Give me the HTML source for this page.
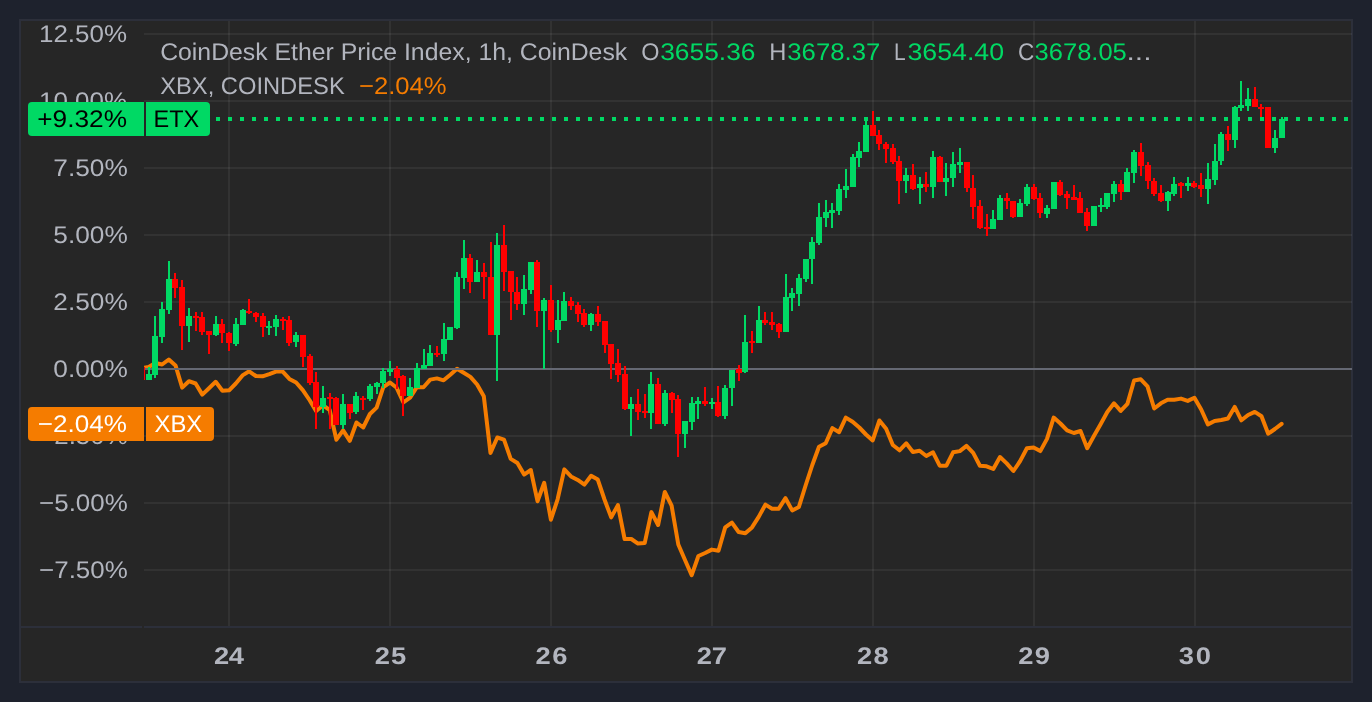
<!DOCTYPE html>
<html lang="en">
<head>
<meta charset="utf-8">
<title>CoinDesk Ether Price Index</title>
<style>
html,body{margin:0;padding:0;background:#1e222d;}
body{width:1372px;height:702px;overflow:hidden;}
svg{display:block;}
text{font-family:"Liberation Sans",sans-serif;}
.ax{font-size:24px;fill:#b2b5be;letter-spacing:0.75px;}
.axb{font-size:24px;font-weight:bold;fill:#b2b5be;letter-spacing:0.5px;}
.lg{font-size:24px;}
</style>
</head>
<body>
<svg width="1372" height="702" viewBox="0 0 1372 702" shape-rendering="crispEdges" text-rendering="geometricPrecision">
<rect x="0" y="0" width="1372" height="702" fill="#1e222d"/>
<rect x="20" y="20" width="1332" height="662" fill="#262626" stroke="#2c2f3a" stroke-width="2"/>
<rect x="144" y="33" width="1208" height="2" fill="rgba(255,255,255,0.06)"/>
<rect x="144" y="100" width="1208" height="2" fill="rgba(255,255,255,0.06)"/>
<rect x="144" y="167" width="1208" height="2" fill="rgba(255,255,255,0.06)"/>
<rect x="144" y="234" width="1208" height="2" fill="rgba(255,255,255,0.06)"/>
<rect x="144" y="301" width="1208" height="2" fill="rgba(255,255,255,0.06)"/>
<rect x="144" y="435" width="1208" height="2" fill="rgba(255,255,255,0.06)"/>
<rect x="144" y="502" width="1208" height="2" fill="rgba(255,255,255,0.06)"/>
<rect x="144" y="569" width="1208" height="2" fill="rgba(255,255,255,0.06)"/>
<rect x="228" y="21" width="2" height="605" fill="rgba(255,255,255,0.06)"/>
<rect x="389" y="21" width="2" height="605" fill="rgba(255,255,255,0.06)"/>
<rect x="550" y="21" width="2" height="605" fill="rgba(255,255,255,0.06)"/>
<rect x="711" y="21" width="2" height="605" fill="rgba(255,255,255,0.06)"/>
<rect x="872" y="21" width="2" height="605" fill="rgba(255,255,255,0.06)"/>
<rect x="1033" y="21" width="2" height="605" fill="rgba(255,255,255,0.06)"/>
<rect x="1194" y="21" width="2" height="605" fill="rgba(255,255,255,0.06)"/>
<rect x="21" y="626" width="121" height="2" fill="#2c2f3a"/>
<rect x="144" y="626" width="1208" height="2" fill="#2c2f3a"/>
<defs><clipPath id="plot"><rect x="144" y="21" width="1208" height="604"/></clipPath></defs>
<g clip-path="url(#plot)">
<polyline points="142.0,368 148.7,367 155.4,363 162.1,364.5 168.8,359.5 175.5,365.4 182.2,387.6 188.9,381.2 195.6,383.5 202.3,394.6 209.0,388.2 215.7,381.8 222.4,390.8 229.1,390.3 235.8,383.5 242.5,375.4 249.2,371.3 255.9,376 262.6,376.3 269.3,374.2 276.0,371.6 282.7,371.6 289.4,378.9 296.1,382.5 302.8,390.1 309.5,400 316.2,411.1 323.0,405.3 329.7,410 336.4,439.7 343.1,430.4 349.8,440.9 356.5,422.5 363.2,427.5 369.9,414 376.6,407.6 383.3,387.2 390.0,382.5 396.7,387.8 403.4,402.4 410.1,397.7 416.8,387.2 423.5,387.2 430.2,379.6 436.9,378.4 443.6,380.3 450.3,374.7 457.0,368.8 463.7,372.8 470.4,376.9 477.1,384.5 483.8,396.2 490.5,453 497.3,437.5 504.0,439.6 510.7,458.9 517.4,463 524.1,474.6 530.8,470 537.5,501.2 544.2,482.8 550.9,519.7 557.6,499.3 564.3,469.4 571.0,476.4 577.7,479.9 584.4,484.6 591.1,475.8 597.8,479.6 604.5,499.5 611.2,517.4 617.9,505.1 624.6,539 631.3,539 638.0,543.6 644.7,543.1 651.4,512.1 658.1,525 664.8,492 671.6,505.7 678.3,544.5 685.0,560 691.7,575.2 698.4,556 705.1,553 711.8,549.6 718.5,550.7 725.2,527.4 731.9,522.7 738.6,532 745.3,533.2 752.0,527.4 758.7,516.9 765.4,504.6 772.1,508.7 778.8,508.7 785.5,498.2 792.2,510.4 798.9,506.9 805.6,485.5 812.3,465 819.0,446.8 825.7,443.3 832.4,428.1 839.1,432.2 845.8,417.6 852.6,421.7 859.3,427.5 866.0,434.5 872.7,440.4 879.4,420.5 886.1,428.7 892.8,445 899.5,450.3 906.2,443.3 912.9,452 919.6,450.7 926.3,456 933.0,452.3 939.7,465.7 946.4,465.7 953.1,452.3 959.8,451.1 966.5,445.9 973.2,452.9 979.9,465.7 986.6,466.3 993.3,469 1000.0,457 1006.7,463.4 1013.4,471 1020.1,461.1 1026.9,448.2 1033.6,447.6 1040.3,451.1 1047.0,438.9 1053.7,417.6 1060.4,423.5 1067.1,430.4 1073.8,433 1080.5,431 1087.2,448.2 1093.9,436 1100.6,424.3 1107.3,412 1114.0,403.3 1120.7,410.9 1127.4,403.9 1134.1,380.5 1140.8,379.3 1147.5,386.4 1154.2,408.5 1160.9,403.3 1167.6,399.8 1174.3,399.8 1181.0,398.6 1187.7,400.9 1194.4,397.8 1201.2,409.5 1207.9,424.4 1214.6,421 1221.3,420 1228.0,418.5 1234.7,406.9 1241.4,420.3 1248.1,415 1254.8,411.9 1261.5,416.2 1268.2,433.7 1274.9,429 1281.6,423.8" fill="none" stroke="#f57c00" stroke-width="4" stroke-linejoin="round" stroke-linecap="round" shape-rendering="geometricPrecision"/>
<rect x="144" y="368" width="1208" height="2" fill="#656873"/>
<rect x="141" y="367" width="2" height="13" fill="#ff0000"/>
<rect x="139" y="367" width="6" height="13" fill="#ff0000"/>
<rect x="148" y="367" width="2" height="13" fill="#00d964"/>
<rect x="146" y="374" width="6" height="6" fill="#00d964"/>
<rect x="154" y="316" width="2" height="62" fill="#00d964"/>
<rect x="152" y="336" width="6" height="39" fill="#00d964"/>
<rect x="161" y="302" width="2" height="41" fill="#00d964"/>
<rect x="159" y="309" width="6" height="28" fill="#00d964"/>
<rect x="168" y="261" width="2" height="53" fill="#00d964"/>
<rect x="166" y="279" width="6" height="31" fill="#00d964"/>
<rect x="174" y="273" width="2" height="25" fill="#ff0000"/>
<rect x="172" y="279" width="6" height="9" fill="#ff0000"/>
<rect x="181" y="280" width="2" height="70" fill="#ff0000"/>
<rect x="179" y="287" width="6" height="39" fill="#ff0000"/>
<rect x="188" y="308" width="2" height="34" fill="#00d964"/>
<rect x="186" y="316" width="6" height="10" fill="#00d964"/>
<rect x="195" y="312" width="2" height="19" fill="#ff0000"/>
<rect x="193" y="316" width="6" height="2" fill="#ff0000"/>
<rect x="201" y="312" width="2" height="23" fill="#ff0000"/>
<rect x="199" y="317" width="6" height="15" fill="#ff0000"/>
<rect x="208" y="331" width="2" height="23" fill="#ff0000"/>
<rect x="206" y="331" width="6" height="4" fill="#ff0000"/>
<rect x="215" y="316" width="2" height="20" fill="#00d964"/>
<rect x="213" y="324" width="6" height="11" fill="#00d964"/>
<rect x="221" y="319" width="2" height="24" fill="#ff0000"/>
<rect x="219" y="324" width="6" height="9" fill="#ff0000"/>
<rect x="228" y="332" width="2" height="19" fill="#ff0000"/>
<rect x="226" y="333" width="6" height="10" fill="#ff0000"/>
<rect x="235" y="318" width="2" height="28" fill="#00d964"/>
<rect x="233" y="324" width="6" height="20" fill="#00d964"/>
<rect x="242" y="309" width="2" height="16" fill="#00d964"/>
<rect x="240" y="310" width="6" height="15" fill="#00d964"/>
<rect x="248" y="299" width="2" height="15" fill="#ff0000"/>
<rect x="246" y="311" width="6" height="2" fill="#ff0000"/>
<rect x="255" y="312" width="2" height="10" fill="#ff0000"/>
<rect x="253" y="313" width="6" height="4" fill="#ff0000"/>
<rect x="262" y="313" width="2" height="24" fill="#ff0000"/>
<rect x="260" y="316" width="6" height="11" fill="#ff0000"/>
<rect x="268" y="321" width="2" height="14" fill="#00d964"/>
<rect x="266" y="326" width="6" height="2" fill="#00d964"/>
<rect x="275" y="315" width="2" height="21" fill="#00d964"/>
<rect x="273" y="319" width="6" height="8" fill="#00d964"/>
<rect x="282" y="317" width="2" height="13" fill="#ff0000"/>
<rect x="280" y="319" width="6" height="2" fill="#ff0000"/>
<rect x="288" y="316" width="2" height="30" fill="#ff0000"/>
<rect x="286" y="320" width="6" height="23" fill="#ff0000"/>
<rect x="295" y="332" width="2" height="15" fill="#00d964"/>
<rect x="293" y="335" width="6" height="7" fill="#00d964"/>
<rect x="302" y="335" width="2" height="32" fill="#ff0000"/>
<rect x="300" y="335" width="6" height="22" fill="#ff0000"/>
<rect x="309" y="354" width="2" height="31" fill="#ff0000"/>
<rect x="307" y="356" width="6" height="27" fill="#ff0000"/>
<rect x="315" y="372" width="2" height="57" fill="#ff0000"/>
<rect x="313" y="382" width="6" height="25" fill="#ff0000"/>
<rect x="322" y="386" width="2" height="27" fill="#00d964"/>
<rect x="320" y="398" width="6" height="9" fill="#00d964"/>
<rect x="329" y="393" width="2" height="36" fill="#ff0000"/>
<rect x="327" y="397" width="6" height="2" fill="#ff0000"/>
<rect x="335" y="397" width="2" height="28" fill="#ff0000"/>
<rect x="333" y="398" width="6" height="27" fill="#ff0000"/>
<rect x="342" y="394" width="2" height="35" fill="#00d964"/>
<rect x="340" y="404" width="6" height="21" fill="#00d964"/>
<rect x="349" y="404" width="2" height="15" fill="#ff0000"/>
<rect x="347" y="404" width="6" height="9" fill="#ff0000"/>
<rect x="355" y="392" width="2" height="22" fill="#00d964"/>
<rect x="353" y="396" width="6" height="16" fill="#00d964"/>
<rect x="362" y="396" width="2" height="14" fill="#ff0000"/>
<rect x="360" y="398" width="6" height="2" fill="#ff0000"/>
<rect x="369" y="384" width="2" height="17" fill="#00d964"/>
<rect x="367" y="386" width="6" height="13" fill="#00d964"/>
<rect x="376" y="382" width="2" height="12" fill="#00d964"/>
<rect x="374" y="383" width="6" height="4" fill="#00d964"/>
<rect x="382" y="368" width="2" height="20" fill="#00d964"/>
<rect x="380" y="371" width="6" height="12" fill="#00d964"/>
<rect x="389" y="361" width="2" height="15" fill="#00d964"/>
<rect x="387" y="369" width="6" height="3" fill="#00d964"/>
<rect x="396" y="366" width="2" height="23" fill="#ff0000"/>
<rect x="394" y="369" width="6" height="9" fill="#ff0000"/>
<rect x="402" y="375" width="2" height="41" fill="#ff0000"/>
<rect x="400" y="376" width="6" height="20" fill="#ff0000"/>
<rect x="409" y="378" width="2" height="18" fill="#00d964"/>
<rect x="407" y="387" width="6" height="9" fill="#00d964"/>
<rect x="416" y="363" width="2" height="25" fill="#00d964"/>
<rect x="414" y="368" width="6" height="20" fill="#00d964"/>
<rect x="423" y="349" width="2" height="20" fill="#00d964"/>
<rect x="421" y="365" width="6" height="4" fill="#00d964"/>
<rect x="429" y="345" width="2" height="21" fill="#00d964"/>
<rect x="427" y="353" width="6" height="13" fill="#00d964"/>
<rect x="436" y="346" width="2" height="11" fill="#ff0000"/>
<rect x="434" y="353" width="6" height="2" fill="#ff0000"/>
<rect x="443" y="323" width="2" height="38" fill="#00d964"/>
<rect x="441" y="339" width="6" height="15" fill="#00d964"/>
<rect x="449" y="327" width="2" height="13" fill="#00d964"/>
<rect x="447" y="327" width="6" height="13" fill="#00d964"/>
<rect x="456" y="272" width="2" height="57" fill="#00d964"/>
<rect x="454" y="277" width="6" height="51" fill="#00d964"/>
<rect x="463" y="240" width="2" height="49" fill="#00d964"/>
<rect x="461" y="258" width="6" height="20" fill="#00d964"/>
<rect x="469" y="254" width="2" height="39" fill="#ff0000"/>
<rect x="467" y="258" width="6" height="24" fill="#ff0000"/>
<rect x="476" y="260" width="2" height="22" fill="#00d964"/>
<rect x="474" y="272" width="6" height="10" fill="#00d964"/>
<rect x="483" y="263" width="2" height="36" fill="#ff0000"/>
<rect x="481" y="272" width="6" height="5" fill="#ff0000"/>
<rect x="490" y="242" width="2" height="93" fill="#ff0000"/>
<rect x="488" y="277" width="6" height="58" fill="#ff0000"/>
<rect x="496" y="233" width="2" height="148" fill="#00d964"/>
<rect x="494" y="245" width="6" height="90" fill="#00d964"/>
<rect x="503" y="225" width="2" height="66" fill="#ff0000"/>
<rect x="501" y="245" width="6" height="27" fill="#ff0000"/>
<rect x="510" y="271" width="2" height="49" fill="#ff0000"/>
<rect x="508" y="271" width="6" height="21" fill="#ff0000"/>
<rect x="516" y="277" width="2" height="33" fill="#ff0000"/>
<rect x="514" y="292" width="6" height="12" fill="#ff0000"/>
<rect x="523" y="275" width="2" height="40" fill="#00d964"/>
<rect x="521" y="289" width="6" height="15" fill="#00d964"/>
<rect x="530" y="262" width="2" height="32" fill="#00d964"/>
<rect x="528" y="262" width="6" height="28" fill="#00d964"/>
<rect x="536" y="260" width="2" height="67" fill="#ff0000"/>
<rect x="534" y="262" width="6" height="49" fill="#ff0000"/>
<rect x="543" y="298" width="2" height="71" fill="#00d964"/>
<rect x="541" y="300" width="6" height="11" fill="#00d964"/>
<rect x="550" y="285" width="2" height="47" fill="#ff0000"/>
<rect x="548" y="300" width="6" height="30" fill="#ff0000"/>
<rect x="557" y="300" width="2" height="43" fill="#00d964"/>
<rect x="555" y="320" width="6" height="10" fill="#00d964"/>
<rect x="563" y="292" width="2" height="29" fill="#00d964"/>
<rect x="561" y="301" width="6" height="20" fill="#00d964"/>
<rect x="570" y="297" width="2" height="13" fill="#ff0000"/>
<rect x="568" y="301" width="6" height="5" fill="#ff0000"/>
<rect x="577" y="302" width="2" height="20" fill="#ff0000"/>
<rect x="575" y="305" width="6" height="9" fill="#ff0000"/>
<rect x="583" y="309" width="2" height="18" fill="#ff0000"/>
<rect x="581" y="313" width="6" height="12" fill="#ff0000"/>
<rect x="590" y="313" width="2" height="18" fill="#00d964"/>
<rect x="588" y="314" width="6" height="11" fill="#00d964"/>
<rect x="597" y="306" width="2" height="20" fill="#ff0000"/>
<rect x="595" y="314" width="6" height="8" fill="#ff0000"/>
<rect x="604" y="321" width="2" height="32" fill="#ff0000"/>
<rect x="602" y="321" width="6" height="24" fill="#ff0000"/>
<rect x="610" y="344" width="2" height="35" fill="#ff0000"/>
<rect x="608" y="344" width="6" height="20" fill="#ff0000"/>
<rect x="617" y="349" width="2" height="33" fill="#ff0000"/>
<rect x="615" y="363" width="6" height="12" fill="#ff0000"/>
<rect x="624" y="366" width="2" height="44" fill="#ff0000"/>
<rect x="622" y="374" width="6" height="35" fill="#ff0000"/>
<rect x="630" y="397" width="2" height="39" fill="#00d964"/>
<rect x="628" y="404" width="6" height="5" fill="#00d964"/>
<rect x="637" y="389" width="2" height="31" fill="#ff0000"/>
<rect x="635" y="404" width="6" height="8" fill="#ff0000"/>
<rect x="644" y="394" width="2" height="24" fill="#ff0000"/>
<rect x="642" y="411" width="6" height="2" fill="#ff0000"/>
<rect x="650" y="372" width="2" height="57" fill="#00d964"/>
<rect x="648" y="384" width="6" height="29" fill="#00d964"/>
<rect x="657" y="378" width="2" height="46" fill="#ff0000"/>
<rect x="655" y="384" width="6" height="40" fill="#ff0000"/>
<rect x="664" y="390" width="2" height="36" fill="#00d964"/>
<rect x="662" y="393" width="6" height="31" fill="#00d964"/>
<rect x="671" y="392" width="2" height="21" fill="#ff0000"/>
<rect x="669" y="393" width="6" height="7" fill="#ff0000"/>
<rect x="677" y="395" width="2" height="62" fill="#ff0000"/>
<rect x="675" y="399" width="6" height="35" fill="#ff0000"/>
<rect x="684" y="421" width="2" height="27" fill="#00d964"/>
<rect x="682" y="421" width="6" height="13" fill="#00d964"/>
<rect x="691" y="397" width="2" height="33" fill="#00d964"/>
<rect x="689" y="403" width="6" height="19" fill="#00d964"/>
<rect x="697" y="397" width="2" height="22" fill="#00d964"/>
<rect x="695" y="401" width="6" height="3" fill="#00d964"/>
<rect x="704" y="387" width="2" height="19" fill="#ff0000"/>
<rect x="702" y="401" width="6" height="3" fill="#ff0000"/>
<rect x="711" y="398" width="2" height="11" fill="#00d964"/>
<rect x="709" y="402" width="6" height="2" fill="#00d964"/>
<rect x="717" y="386" width="2" height="31" fill="#ff0000"/>
<rect x="715" y="402" width="6" height="14" fill="#ff0000"/>
<rect x="724" y="385" width="2" height="34" fill="#00d964"/>
<rect x="722" y="388" width="6" height="28" fill="#00d964"/>
<rect x="731" y="370" width="2" height="36" fill="#00d964"/>
<rect x="729" y="370" width="6" height="18" fill="#00d964"/>
<rect x="738" y="365" width="2" height="16" fill="#ff0000"/>
<rect x="736" y="369" width="6" height="4" fill="#ff0000"/>
<rect x="744" y="315" width="2" height="58" fill="#00d964"/>
<rect x="742" y="342" width="6" height="30" fill="#00d964"/>
<rect x="751" y="331" width="2" height="22" fill="#ff0000"/>
<rect x="749" y="341" width="6" height="2" fill="#ff0000"/>
<rect x="758" y="306" width="2" height="37" fill="#00d964"/>
<rect x="756" y="320" width="6" height="23" fill="#00d964"/>
<rect x="764" y="312" width="2" height="13" fill="#ff0000"/>
<rect x="762" y="320" width="6" height="3" fill="#ff0000"/>
<rect x="771" y="312" width="2" height="18" fill="#ff0000"/>
<rect x="769" y="322" width="6" height="3" fill="#ff0000"/>
<rect x="778" y="323" width="2" height="15" fill="#ff0000"/>
<rect x="776" y="324" width="6" height="8" fill="#ff0000"/>
<rect x="785" y="274" width="2" height="58" fill="#00d964"/>
<rect x="783" y="297" width="6" height="35" fill="#00d964"/>
<rect x="791" y="288" width="2" height="23" fill="#00d964"/>
<rect x="789" y="293" width="6" height="5" fill="#00d964"/>
<rect x="798" y="274" width="2" height="32" fill="#00d964"/>
<rect x="796" y="278" width="6" height="16" fill="#00d964"/>
<rect x="805" y="259" width="2" height="23" fill="#00d964"/>
<rect x="803" y="259" width="6" height="20" fill="#00d964"/>
<rect x="811" y="237" width="2" height="47" fill="#00d964"/>
<rect x="809" y="242" width="6" height="17" fill="#00d964"/>
<rect x="818" y="203" width="2" height="42" fill="#00d964"/>
<rect x="816" y="217" width="6" height="26" fill="#00d964"/>
<rect x="825" y="200" width="2" height="27" fill="#00d964"/>
<rect x="823" y="212" width="6" height="6" fill="#00d964"/>
<rect x="831" y="203" width="2" height="25" fill="#00d964"/>
<rect x="829" y="210" width="6" height="3" fill="#00d964"/>
<rect x="838" y="184" width="2" height="31" fill="#00d964"/>
<rect x="836" y="189" width="6" height="22" fill="#00d964"/>
<rect x="845" y="169" width="2" height="29" fill="#00d964"/>
<rect x="843" y="186" width="6" height="4" fill="#00d964"/>
<rect x="852" y="154" width="2" height="33" fill="#00d964"/>
<rect x="850" y="157" width="6" height="30" fill="#00d964"/>
<rect x="858" y="142" width="2" height="25" fill="#00d964"/>
<rect x="856" y="151" width="6" height="7" fill="#00d964"/>
<rect x="865" y="120" width="2" height="32" fill="#00d964"/>
<rect x="863" y="125" width="6" height="27" fill="#00d964"/>
<rect x="872" y="111" width="2" height="25" fill="#ff0000"/>
<rect x="870" y="125" width="6" height="11" fill="#ff0000"/>
<rect x="878" y="130" width="2" height="20" fill="#ff0000"/>
<rect x="876" y="135" width="6" height="9" fill="#ff0000"/>
<rect x="885" y="142" width="2" height="21" fill="#ff0000"/>
<rect x="883" y="144" width="6" height="5" fill="#ff0000"/>
<rect x="892" y="144" width="2" height="20" fill="#ff0000"/>
<rect x="890" y="148" width="6" height="14" fill="#ff0000"/>
<rect x="898" y="156" width="2" height="48" fill="#ff0000"/>
<rect x="896" y="161" width="6" height="20" fill="#ff0000"/>
<rect x="905" y="168" width="2" height="25" fill="#00d964"/>
<rect x="903" y="175" width="6" height="6" fill="#00d964"/>
<rect x="912" y="164" width="2" height="26" fill="#ff0000"/>
<rect x="910" y="175" width="6" height="14" fill="#ff0000"/>
<rect x="919" y="177" width="2" height="27" fill="#00d964"/>
<rect x="917" y="184" width="6" height="4" fill="#00d964"/>
<rect x="925" y="172" width="2" height="20" fill="#ff0000"/>
<rect x="923" y="184" width="6" height="3" fill="#ff0000"/>
<rect x="932" y="151" width="2" height="47" fill="#00d964"/>
<rect x="930" y="157" width="6" height="30" fill="#00d964"/>
<rect x="939" y="156" width="2" height="26" fill="#ff0000"/>
<rect x="937" y="157" width="6" height="25" fill="#ff0000"/>
<rect x="945" y="163" width="2" height="33" fill="#00d964"/>
<rect x="943" y="178" width="6" height="4" fill="#00d964"/>
<rect x="952" y="152" width="2" height="35" fill="#00d964"/>
<rect x="950" y="164" width="6" height="14" fill="#00d964"/>
<rect x="959" y="148" width="2" height="25" fill="#00d964"/>
<rect x="957" y="162" width="6" height="3" fill="#00d964"/>
<rect x="966" y="162" width="2" height="30" fill="#ff0000"/>
<rect x="964" y="162" width="6" height="26" fill="#ff0000"/>
<rect x="972" y="175" width="2" height="44" fill="#ff0000"/>
<rect x="970" y="188" width="6" height="19" fill="#ff0000"/>
<rect x="979" y="200" width="2" height="29" fill="#ff0000"/>
<rect x="977" y="206" width="6" height="22" fill="#ff0000"/>
<rect x="986" y="214" width="2" height="22" fill="#ff0000"/>
<rect x="984" y="227" width="6" height="2" fill="#ff0000"/>
<rect x="992" y="210" width="2" height="19" fill="#00d964"/>
<rect x="990" y="219" width="6" height="10" fill="#00d964"/>
<rect x="999" y="195" width="2" height="25" fill="#00d964"/>
<rect x="997" y="198" width="6" height="22" fill="#00d964"/>
<rect x="1006" y="193" width="2" height="16" fill="#ff0000"/>
<rect x="1004" y="198" width="6" height="3" fill="#ff0000"/>
<rect x="1012" y="201" width="2" height="17" fill="#ff0000"/>
<rect x="1010" y="201" width="6" height="16" fill="#ff0000"/>
<rect x="1019" y="199" width="2" height="18" fill="#00d964"/>
<rect x="1017" y="203" width="6" height="14" fill="#00d964"/>
<rect x="1026" y="184" width="2" height="22" fill="#00d964"/>
<rect x="1024" y="187" width="6" height="17" fill="#00d964"/>
<rect x="1033" y="184" width="2" height="16" fill="#ff0000"/>
<rect x="1031" y="187" width="6" height="12" fill="#ff0000"/>
<rect x="1039" y="193" width="2" height="25" fill="#ff0000"/>
<rect x="1037" y="198" width="6" height="15" fill="#ff0000"/>
<rect x="1046" y="205" width="2" height="13" fill="#00d964"/>
<rect x="1044" y="208" width="6" height="6" fill="#00d964"/>
<rect x="1053" y="182" width="2" height="27" fill="#00d964"/>
<rect x="1051" y="182" width="6" height="27" fill="#00d964"/>
<rect x="1059" y="180" width="2" height="16" fill="#ff0000"/>
<rect x="1057" y="182" width="6" height="13" fill="#ff0000"/>
<rect x="1066" y="191" width="2" height="18" fill="#ff0000"/>
<rect x="1064" y="194" width="6" height="4" fill="#ff0000"/>
<rect x="1073" y="185" width="2" height="15" fill="#ff0000"/>
<rect x="1071" y="197" width="6" height="3" fill="#ff0000"/>
<rect x="1079" y="192" width="2" height="21" fill="#ff0000"/>
<rect x="1077" y="198" width="6" height="15" fill="#ff0000"/>
<rect x="1086" y="208" width="2" height="23" fill="#ff0000"/>
<rect x="1084" y="212" width="6" height="14" fill="#ff0000"/>
<rect x="1093" y="206" width="2" height="20" fill="#00d964"/>
<rect x="1091" y="206" width="6" height="20" fill="#00d964"/>
<rect x="1100" y="198" width="2" height="14" fill="#00d964"/>
<rect x="1098" y="205" width="6" height="2" fill="#00d964"/>
<rect x="1106" y="193" width="2" height="16" fill="#00d964"/>
<rect x="1104" y="193" width="6" height="14" fill="#00d964"/>
<rect x="1113" y="181" width="2" height="21" fill="#00d964"/>
<rect x="1111" y="184" width="6" height="10" fill="#00d964"/>
<rect x="1120" y="180" width="2" height="20" fill="#ff0000"/>
<rect x="1118" y="184" width="6" height="8" fill="#ff0000"/>
<rect x="1126" y="168" width="2" height="24" fill="#00d964"/>
<rect x="1124" y="172" width="6" height="20" fill="#00d964"/>
<rect x="1133" y="150" width="2" height="33" fill="#00d964"/>
<rect x="1131" y="152" width="6" height="21" fill="#00d964"/>
<rect x="1140" y="143" width="2" height="33" fill="#ff0000"/>
<rect x="1138" y="152" width="6" height="14" fill="#ff0000"/>
<rect x="1147" y="162" width="2" height="27" fill="#ff0000"/>
<rect x="1145" y="165" width="6" height="16" fill="#ff0000"/>
<rect x="1153" y="178" width="2" height="18" fill="#ff0000"/>
<rect x="1151" y="181" width="6" height="13" fill="#ff0000"/>
<rect x="1160" y="185" width="2" height="17" fill="#ff0000"/>
<rect x="1158" y="193" width="6" height="8" fill="#ff0000"/>
<rect x="1167" y="191" width="2" height="20" fill="#00d964"/>
<rect x="1165" y="192" width="6" height="9" fill="#00d964"/>
<rect x="1173" y="177" width="2" height="19" fill="#00d964"/>
<rect x="1171" y="184" width="6" height="10" fill="#00d964"/>
<rect x="1180" y="182" width="2" height="16" fill="#ff0000"/>
<rect x="1178" y="183" width="6" height="3" fill="#ff0000"/>
<rect x="1187" y="177" width="2" height="14" fill="#00d964"/>
<rect x="1185" y="183" width="6" height="3" fill="#00d964"/>
<rect x="1193" y="181" width="2" height="7" fill="#ff0000"/>
<rect x="1191" y="183" width="6" height="4" fill="#ff0000"/>
<rect x="1200" y="173" width="2" height="24" fill="#ff0000"/>
<rect x="1198" y="185" width="6" height="4" fill="#ff0000"/>
<rect x="1207" y="163" width="2" height="41" fill="#00d964"/>
<rect x="1205" y="179" width="6" height="10" fill="#00d964"/>
<rect x="1214" y="144" width="2" height="41" fill="#00d964"/>
<rect x="1212" y="161" width="6" height="19" fill="#00d964"/>
<rect x="1220" y="132" width="2" height="33" fill="#00d964"/>
<rect x="1218" y="134" width="6" height="27" fill="#00d964"/>
<rect x="1227" y="126" width="2" height="25" fill="#ff0000"/>
<rect x="1225" y="134" width="6" height="6" fill="#ff0000"/>
<rect x="1234" y="106" width="2" height="42" fill="#00d964"/>
<rect x="1232" y="107" width="6" height="33" fill="#00d964"/>
<rect x="1240" y="81" width="2" height="30" fill="#00d964"/>
<rect x="1238" y="105" width="6" height="3" fill="#00d964"/>
<rect x="1247" y="88" width="2" height="23" fill="#00d964"/>
<rect x="1245" y="99" width="6" height="7" fill="#00d964"/>
<rect x="1254" y="87" width="2" height="20" fill="#ff0000"/>
<rect x="1252" y="99" width="6" height="8" fill="#ff0000"/>
<rect x="1260" y="104" width="2" height="13" fill="#ff0000"/>
<rect x="1258" y="107" width="6" height="2" fill="#ff0000"/>
<rect x="1267" y="107" width="2" height="41" fill="#ff0000"/>
<rect x="1265" y="107" width="6" height="41" fill="#ff0000"/>
<rect x="1274" y="130" width="2" height="23" fill="#00d964"/>
<rect x="1272" y="138" width="6" height="10" fill="#00d964"/>
<rect x="1281" y="117" width="2" height="21" fill="#00d964"/>
<rect x="1279" y="119" width="6" height="19" fill="#00d964"/>
<line x1="216" y1="119" x2="1352" y2="119" stroke="#00d964" stroke-width="4" stroke-dasharray="4 8"/>
</g>
<text x="38.94" y="42.1" font-size="24" fill="#b2b5be" textLength="88.1" lengthAdjust="spacingAndGlyphs">12.50%</text>
<text x="38.94" y="109.1" font-size="24" fill="#b2b5be" textLength="88.1" lengthAdjust="spacingAndGlyphs">10.00%</text>
<text x="53.31" y="176.1" font-size="24" fill="#b2b5be" textLength="74.46" lengthAdjust="spacingAndGlyphs">7.50%</text>
<text x="53.31" y="243.1" font-size="24" fill="#b2b5be" textLength="74.46" lengthAdjust="spacingAndGlyphs">5.00%</text>
<text x="53.31" y="310.1" font-size="24" fill="#b2b5be" textLength="74.46" lengthAdjust="spacingAndGlyphs">2.50%</text>
<text x="53.31" y="377.1" font-size="24" fill="#b2b5be" textLength="74.46" lengthAdjust="spacingAndGlyphs">0.00%</text>
<text x="39.12" y="444.1" font-size="24" fill="#b2b5be" textLength="88.64" lengthAdjust="spacingAndGlyphs">−2.50%</text>
<text x="39.12" y="511.1" font-size="24" fill="#b2b5be" textLength="88.64" lengthAdjust="spacingAndGlyphs">−5.00%</text>
<text x="39.12" y="578.1" font-size="24" fill="#b2b5be" textLength="88.64" lengthAdjust="spacingAndGlyphs">−7.50%</text>
<text transform="translate(213.89,664.4) scale(1.14,1)" letter-spacing="-0.33" font-size="24" font-weight="bold" fill="#b2b5be">24</text>
<text transform="translate(374.79,664.4) scale(1.14,1)" letter-spacing="0.81" font-size="24" font-weight="bold" fill="#b2b5be">25</text>
<text transform="translate(535.49,664.4) scale(1.14,1)" letter-spacing="1.37" font-size="24" font-weight="bold" fill="#b2b5be">26</text>
<text transform="translate(696.79,664.4) scale(1.14,1)" letter-spacing="-0.19" font-size="24" font-weight="bold" fill="#b2b5be">27</text>
<text transform="translate(857.09,664.4) scale(1.14,1)" letter-spacing="0.99" font-size="24" font-weight="bold" fill="#b2b5be">28</text>
<text transform="translate(1018.29,664.4) scale(1.14,1)" letter-spacing="1.02" font-size="24" font-weight="bold" fill="#b2b5be">29</text>
<text transform="translate(1178.7,664.4) scale(1.14,1)" letter-spacing="1.65" font-size="24" font-weight="bold" fill="#b2b5be">30</text>
<path d="M32 102H144V136H32a4 4 0 0 1-4-4V106a4 4 0 0 1 4-4z" fill="#00d964" shape-rendering="geometricPrecision"/>
<path d="M146 102H206a4 4 0 0 1 4 4V132a4 4 0 0 1-4 4H146z" fill="#00d964" shape-rendering="geometricPrecision"/>
<path d="M32 407H144V441H32a4 4 0 0 1-4-4V411a4 4 0 0 1 4-4z" fill="#f57c00" shape-rendering="geometricPrecision"/>
<path d="M146 407H210a4 4 0 0 1 4 4V437a4 4 0 0 1-4 4H146z" fill="#f57c00" shape-rendering="geometricPrecision"/>
<text x="160.17" y="60" font-size="24" fill="#b2b5be" textLength="467.04" lengthAdjust="spacingAndGlyphs">CoinDesk Ether Price Index, 1h, CoinDesk</text>
<text x="641.32" y="60" font-size="24" fill="#b2b5be" textLength="18.23" lengthAdjust="spacingAndGlyphs">O</text>
<text x="660.2" y="60" font-size="24" fill="#00d964" textLength="95.34" lengthAdjust="spacingAndGlyphs">3655.36</text>
<text x="769.23" y="60" font-size="24" fill="#b2b5be" textLength="17.1" lengthAdjust="spacingAndGlyphs">H</text>
<text x="787.33" y="60" font-size="24" fill="#00d964" textLength="92.89" lengthAdjust="spacingAndGlyphs">3678.37</text>
<text x="894.05" y="60" font-size="24" fill="#b2b5be" textLength="11.66" lengthAdjust="spacingAndGlyphs">L</text>
<text x="907.49" y="60" font-size="24" fill="#00d964" textLength="96.57" lengthAdjust="spacingAndGlyphs">3654.40</text>
<text x="1017.96" y="60" font-size="24" fill="#b2b5be" textLength="16.3" lengthAdjust="spacingAndGlyphs">C</text>
<text x="1034.64" y="60" font-size="24" fill="#00d964" textLength="92.18" lengthAdjust="spacingAndGlyphs">3678.05</text>
<text x="1126.5" y="60" font-size="24" fill="#b2b5be" textLength="25.02" lengthAdjust="spacingAndGlyphs">...</text>
<text x="160.21" y="94" font-size="24" fill="#b2b5be" textLength="184.5" lengthAdjust="spacingAndGlyphs">XBX, COINDESK</text>
<text x="358.93" y="94" font-size="24" fill="#f57c00" textLength="87.72" lengthAdjust="spacingAndGlyphs">−2.04%</text>
<text x="37.31" y="127.2" font-size="24" fill="#000" textLength="89.67" lengthAdjust="spacingAndGlyphs">+9.32%</text>
<text x="153.55" y="127.2" font-size="24" fill="#000" textLength="45.63" lengthAdjust="spacingAndGlyphs">ETX</text>
<text x="37.81" y="432.2" font-size="24" fill="#fff" textLength="89.16" lengthAdjust="spacingAndGlyphs">−2.04%</text>
<text x="154.51" y="432.2" font-size="24" fill="#fff" textLength="47.72" lengthAdjust="spacingAndGlyphs">XBX</text>
</svg>
</body>
</html>
